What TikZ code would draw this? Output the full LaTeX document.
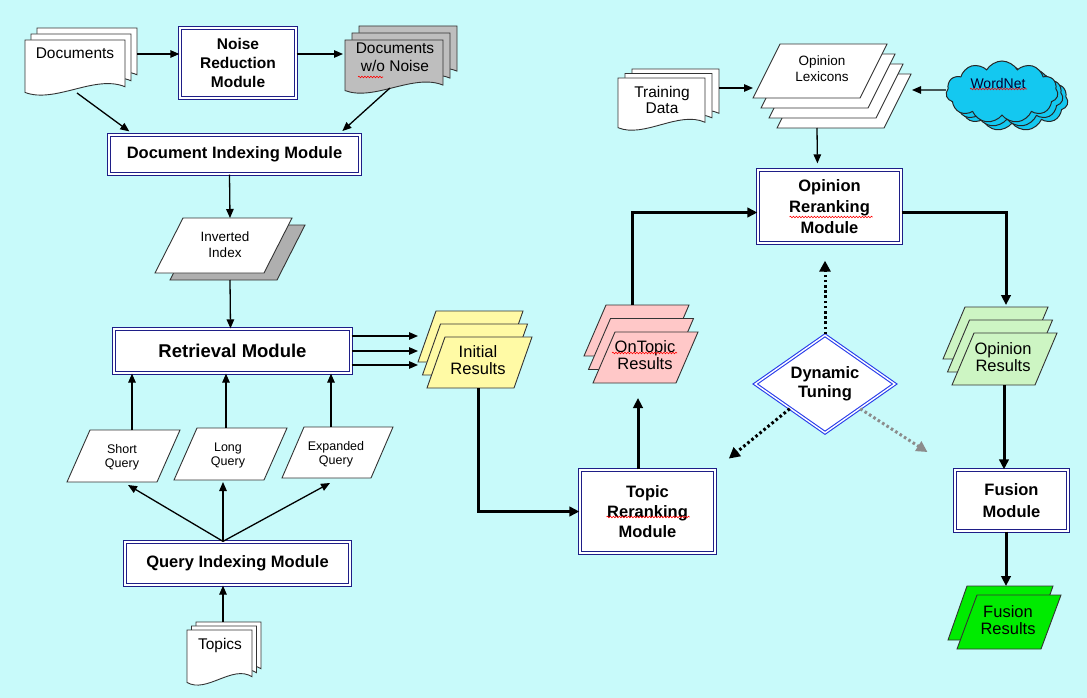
\documentclass[tikz,border=0pt]{standalone}
\usepackage{fontspec}
\setmainfont{Liberation Sans}
\usepackage{tikz}
\usetikzlibrary{calc, arrows.meta, shapes.geometric, shapes.symbols, decorations.pathmorphing}

\definecolor{bgcyan}{RGB}{200,250,250}
\definecolor{modblue}{RGB}{30,30,135}
\definecolor{tuneblue}{RGB}{40,60,235}
\definecolor{nfgray}{RGB}{190,190,190}
\definecolor{shadowgray}{RGB}{175,175,175}
\definecolor{resyellow}{RGB}{255,250,165}
\definecolor{respink}{RGB}{255,200,200}
\definecolor{resgreen}{RGB}{205,245,195}
\definecolor{fusgreen}{RGB}{0,235,0}
\definecolor{cloudblue}{RGB}{20,200,240}

\newcommand{\docpage}[5]{%
  \draw[page, fill=#5] ({#1},{#2}) -- ({#1+#3},{#2}) -- ({#1+#3},{#2+0.82*#4})
    .. controls ({#1+0.7*#3},{#2+0.6*#4}) and ({#1+0.3*#3},{#2+1.12*#4}) .. ({#1},{#2+0.92*#4}) -- cycle;}
\newcommand{\pgpage}[6]{%
  \draw[page, fill=#6] ({#1+#5},{#2}) -- ({#1+#3},{#2}) -- ({#1+#3-#5},{#2+#4}) -- ({#1},{#2+#4}) -- cycle;}

\begin{document}
\begin{tikzpicture}[x=1pt, y=-1pt,
    page/.style={draw=black!80, line width=0.9pt},
    module/.style={draw=modblue, double=white, double distance=1.6pt, line width=1.3pt, fill=white,
      align=center, inner sep=0pt, font=\bfseries\fontsize{16.5}{20.5}\selectfont},
    tuning/.style={diamond, draw=tuneblue, double=white, double distance=1.4pt, line width=1.1pt, fill=white,
      aspect=1.4, minimum width=140pt, minimum height=98pt, inner sep=0pt, align=center,
      font=\bfseries\fontsize{16.5}{19}\selectfont},
    doctext/.style={align=center, inner sep=0pt, font=\fontsize{15.5}{18}\selectfont},
    restext/.style={align=center, inner sep=0pt, font=\fontsize{16.5}{17}\selectfont},
    smalltext/.style={align=center, inner sep=0pt, font=\fontsize{13.5}{16}\selectfont},
    qtext/.style={align=center, inner sep=0pt, font=\fontsize{12.5}{14}\selectfont},
    wordcloud/.style={cloud, cloud puffs=11, cloud puff arc=120, aspect=1.8, draw=black!85, line width=1pt,
      fill=cloudblue, minimum width=112pt, minimum height=62pt, inner sep=0pt},
    arr/.style={-{Triangle[length=9pt,width=7.5pt]}, line width=1.3pt},
    heavyarr/.style={-{Triangle[length=10pt,width=9.5pt]}, line width=3pt},
    dotarr/.style={-{Triangle[length=11pt,width=11pt]}, line width=3pt, dash pattern=on 2.6pt off 2.6pt},
    squiggle/.style={draw=red, line width=0.6pt, decorate, decoration={snake, amplitude=0.8pt, segment length=3pt}}]

  \fill[bgcyan] (0,0) rectangle (1087,698);
  \useasboundingbox (0,0) rectangle (1087,698);

  \docpage{37}{28}{100}{57}{white}
  \docpage{31}{34}{100}{57}{white}
  \docpage{25}{40}{100}{57}{white}
  \node[doctext] (docs) at (75,53) {Documents};

  \docpage{359}{26}{98}{55}{nfgray}
  \docpage{352}{33}{98}{55}{nfgray}
  \docpage{345}{40}{98}{55}{nfgray}
  \node[doctext] (nfdocs) at (395,57) {Documents\\w/o Noise};

  \docpage{632}{69}{87}{54}{white}
  \docpage{625}{73.5}{87}{54}{white}
  \docpage{618}{78}{87}{54}{white}
  \node[doctext, font=\fontsize{15.5}{16}\selectfont] (train) at (662,100) {Training\\Data};

  \docpage{196}{622}{65}{57}{white}
  \docpage{191.5}{626}{65}{57}{white}
  \docpage{187}{630}{65}{57}{white}
  \node[doctext] (topics) at (220,645) {Topics};

  \pgpage{170}{225}{135}{55}{28}{shadowgray}
  \pgpage{155}{218}{137}{55}{28}{white}
  \node[smalltext] (inv) at (225,245) {Inverted\\Index};

  \foreach \k in {3,2,1,0} {\pgpage{753+8*\k}{44+10*\k}{134}{54}{27}{white}}
  \node[smalltext] (lex) at (822,69) {Opinion\\Lexicons};

  \foreach \k in {2,1,0} {\pgpage{427-4.5*\k}{337-13*\k}{105}{51}{18}{resyellow}}
  \node[restext] (init) at (478,360) {Initial\\Results};

  \foreach \k in {2,1,0} {\pgpage{593-4.5*\k}{332-13.5*\k}{105}{51}{22}{respink}}
  \node[restext] (ontopic) at (645,355) {OnTopic\\Results};

  \foreach \k in {2,1,0} {\pgpage{952-4.5*\k}{333-13*\k}{105}{52}{22}{resgreen}}
  \node[restext] (opres) at (1003,357) {Opinion\\Results};

  \pgpage{948}{586}{105}{54}{19}{fusgreen}
  \pgpage{957}{595}{104}{54}{20}{fusgreen}
  \node[restext] (fusres) at (1008,620) {Fusion\\Results};

  \pgpage{67}{430}{113}{52}{23}{white}
  \node[qtext] (sq) at (122,457) {Short\\Query};
  \pgpage{174}{428}{113}{52}{23}{white}
  \node[qtext] (lq) at (228,455) {Long\\Query};
  \pgpage{282}{427}{111}{51}{22}{white}
  \node[qtext] (eq) at (336,454) {Expanded\\Query};

  \node[module, font=\bfseries\fontsize{15.5}{19}\selectfont, minimum width=116pt, minimum height=70pt] (noise) at (238,63) {Noise\\Reduction\\Module};
  \node[module, minimum width=251pt, minimum height=39pt] (docidx) at (234.5,154.5) {Document Indexing Module};
  \node[module, font=\bfseries\fontsize{18.5}{22}\selectfont, minimum width=237pt, minimum height=44pt] (retr) at (232.5,351) {Retrieval Module};
  \node[module, minimum width=225pt, minimum height=43pt] (qidx) at (237.5,563.5) {Query Indexing Module};
  \node[module, font=\bfseries\fontsize{16.5}{20}\selectfont, minimum width=135pt, minimum height=83pt] (toprr) at (647.5,511.5) {Topic\\Reranking\\Module};
  \node[module, font=\bfseries\fontsize{16.5}{21}\selectfont, minimum width=143pt, minimum height=73pt] (oprr) at (829.5,206.5) {Opinion\\Reranking\\Module};
  \node[module, font=\bfseries\fontsize{16.5}{21.5}\selectfont, minimum width=113pt, minimum height=61pt] (fusion) at (1011.5,500.5) {Fusion\\Module};
  \node[tuning] (tune) at (825,384) {Dynamic\\Tuning};

  \node[wordcloud] (wncloud2) at (1012,100) {};
  \node[wordcloud] (wncloud1) at (1007,96) {};
  \node[wordcloud] (wncloud) at (1002,92) {};
  \node[font=\fontsize{14}{16}\selectfont, text=black!80!blue, inner sep=0pt] (wn) at (998,83) {WordNet};

  \draw[squiggle] ($(nfdocs)+(-37,20)$) -- ++(25,0);
  \draw[squiggle] ($(ontopic)+(-33,-2)$) -- ++(65,0);
  \draw[squiggle] ($(oprr)+(-40,10.5)$) -- ++(83,0);
  \draw[squiggle] ($(toprr)+(-41,5.5)$) -- ++(83,0);
  \draw[squiggle] ($(wn)+(-28,6)$) -- ++(57,0);

  \draw[arr] ($(docs)+(62,1)$) -- ($(noise.west)+(0,-9)$);
  \draw[arr] ($(noise.east)+(0,-9)$) -- ($(nfdocs)+(-52,-3)$);
  \draw[arr, shorten >=5pt] ($(docs)+(2,40)$) -- ($(docidx.north west)+(25,0)$);
  \draw[arr, shorten >=5pt] ($(nfdocs)+(-5,31)$) -- ($(docidx.north east)+(-22,0)$);
  \draw[arr] ($(docidx.south)+(-5,0)$) -- ($(inv)+(5,-27)$);
  \draw[arr] ($(inv)+(5,35)$) -- ($(retr.north)+(-2,0)$);
  \foreach \dy in {-15,0,14}
    \draw[arr] ($(retr.east)+(0,\dy)$) -- ($(init)+(-60,\dy-9)$);
  \foreach \q/\dx in {sq/10, lq/-2, eq/-5}
    \draw[arr] ($(\q)+(\dx,-27)$) -- ($(\q |- retr.south)+(\dx,0)$);
  \draw[arr] ($(qidx.north)+(-14.5,0)$) -- ($(sq)+(6,28)$);
  \draw[arr] ($(qidx.north)+(-14.5,0)$) -- ($(lq)+(-5,27)$);
  \draw[arr] ($(qidx.north)+(-14.5,0)$) -- ($(eq)+(-6,29)$);
  \draw[arr] ($(topics)+(3,-23)$) -- ($(qidx.south)+(-14.5,0)$);

  \draw[heavyarr] ($(init)+(0,28)$) |- (toprr.west);
  \draw[heavyarr] ($(toprr.north)+(-9.5,0)$) -- ($(ontopic)+(-7,43)$);
  \draw[heavyarr] ($(ontopic)+(-13,-50)$) |- ($(oprr.west)+(0,6)$);
  \draw[heavyarr] ($(oprr.east)+(0,6)$) -| ($(opres)+(3,-52)$);
  \draw[heavyarr] ($(opres)+(1,28)$) -- ($(fusion.north)+(-7.5,0)$);
  \draw[heavyarr] ($(fusion.south)+(-5.5,0)$) -- ($(fusres)+(-2,-34)$);

  \draw[arr, shorten >=6pt] ($(lex)+(-5,59)$) -- ($(oprr.north)+(-12,0)$);
  \draw[arr] ($(train)+(57,-12)$) -- ($(lex)+(-69,19)$);
  \draw[arr] ($(wncloud.west)+(0,-2)$) -- ($(lex)+(90,21)$);

  \draw[dotarr, shorten >=17pt] (tune.north) -- (tune.north |- oprr.south);
  \draw[dotarr, shorten >=17pt] (tune.south west) -- (toprr.north east);
  \draw[dotarr, draw=black!45, shorten >=32pt] (tune.south east) -- (fusion.north west);
\end{tikzpicture}
\end{document}
